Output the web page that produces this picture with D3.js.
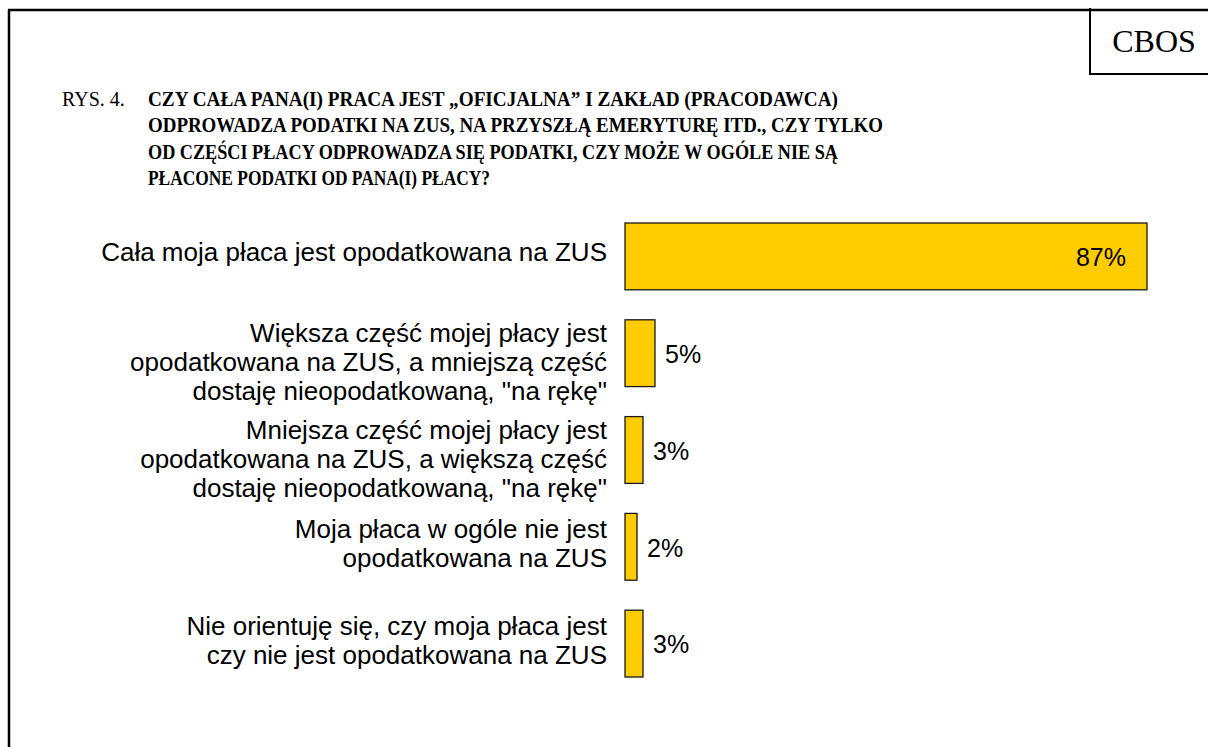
<!DOCTYPE html>
<html>
<head>
<meta charset="utf-8">
<script src="https://cdn.jsdelivr.net/npm/d3@7"></script>
<style>
  html, body { margin: 0; padding: 0; background: #fff; }
  svg { display: block; }
</style>
</head>
<body>
<svg id="chart" width="1208" height="747"></svg>
<script>
// data
const categories = [
  ['Cała moja płaca jest opodatkowana na ZUS'],
  ['Większa część mojej płacy jest', 'opodatkowana na ZUS, a mniejszą część', 'dostaję nieopodatkowaną, "na rękę"'],
  ['Mniejsza część mojej płacy jest', 'opodatkowana na ZUS, a większą część', 'dostaję nieopodatkowaną, "na rękę"'],
  ['Moja płaca w ogóle nie jest', 'opodatkowana na ZUS'],
  ['Nie orientuję się, czy moja płaca jest', 'czy nie jest opodatkowana na ZUS']
];
const values = [87, 5, 3, 2, 3];
const titleLines = [
  'CZY CAŁA PANA(I) PRACA JEST „OFICJALNA” I ZAKŁAD (PRACODAWCA)',
  'ODPROWADZA PODATKI NA ZUS, NA PRZYSZŁĄ EMERYTURĘ ITD., CZY TYLKO',
  'OD CZĘŚCI PŁACY ODPROWADZA SIĘ PODATKI, CZY MOŻE W OGÓLE NIE SĄ',
  'PŁACONE PODATKI OD PANA(I) PŁACY?'
];
const titleWidths = [690, 735, 690, 342];

const svg = d3.select('#chart');
const W = 1208;
const H = 747;
const serif = '"Liberation Serif", "Times New Roman", serif';
const sans = '"Liberation Sans", Arial, sans-serif';

// frame
svg.append('line')
  .attr('x1', 8).attr('x2', W).attr('y1', 10).attr('y2', 10)
  .attr('stroke', '#000').attr('stroke-width', 2.5);
svg.append('line')
  .attr('x1', 9).attr('x2', 9).attr('y1', 10).attr('y2', H)
  .attr('stroke', '#000').attr('stroke-width', 2.5);

// CBOS box
svg.append('line')
  .attr('x1', 1090).attr('x2', 1090).attr('y1', 8).attr('y2', 74)
  .attr('stroke', '#000').attr('stroke-width', 2);
svg.append('line')
  .attr('x1', 1089).attr('x2', W).attr('y1', 74).attr('y2', 74)
  .attr('stroke', '#000').attr('stroke-width', 2);
svg.append('text')
  .attr('x', 1154).attr('y', 52)
  .attr('text-anchor', 'middle')
  .style('font-family', serif).style('font-size', '32px')
  .text('CBOS');

// title
svg.append('text')
  .attr('x', 62).attr('y', 106)
  .style('font-family', serif).style('font-size', '20px')
  .text('RYS. 4.');
svg.append('g')
  .selectAll('text')
  .data(titleLines)
  .join('text')
  .attr('x', 148)
  .attr('y', (d, i) => 106 + i * 26.3)
  .attr('textLength', (d, i) => titleWidths[i])
  .attr('lengthAdjust', 'spacingAndGlyphs')
  .style('font-family', serif).style('font-size', '20px').style('font-weight', 'bold')
  .text(d => d);

// scales
const x = d3.scaleLinear().domain([0, 100]).range([625, 1225]);
const y = d3.scaleBand()
  .domain(d3.range(values.length))
  .range([223, 677])
  .paddingInner(0.31)
  .paddingOuter(0);

const rows = svg.append('g')
  .selectAll('g')
  .data(values)
  .join('g');

rows.append('rect')
  .attr('x', x(0))
  .attr('y', (d, i) => y(i))
  .attr('width', d => x(d) - x(0))
  .attr('height', y.bandwidth())
  .attr('fill', '#ffcc00')
  .attr('stroke', '#1a1a1a')
  .attr('stroke-width', 1.3);

// value labels
rows.append('text')
  .attr('x', d => d > 20 ? x(d) - 21 : x(d) + 10)
  .attr('y', (d, i) => y(i) + y.bandwidth() / 2 + 1)
  .attr('dy', '0.35em')
  .attr('text-anchor', d => d > 20 ? 'end' : 'start')
  .style('font-family', sans).style('font-size', '25px')
  .text(d => `${d}%`);

// category labels (3-line labels sit a bit lower in the original)
const lineH = 29;
const shiftByLines = { 1: -4, 2: -3, 3: 9 };
rows.append('text')
  .attr('text-anchor', 'end')
  .style('font-family', sans).style('font-size', '26px')
  .attr('fill', '#000')
  .each(function (d, i) {
    const lines = categories[i];
    const cy = y(i) + y.bandwidth() / 2 + shiftByLines[lines.length];
    const top = cy - (lines.length - 1) * lineH / 2;
    d3.select(this).selectAll('tspan')
      .data(lines)
      .join('tspan')
      .attr('x', 607)
      .attr('y', (l, j) => top + j * lineH)
      .attr('dy', '0.35em')
      .text(l => l);
  });
</script>
</body>
</html>
